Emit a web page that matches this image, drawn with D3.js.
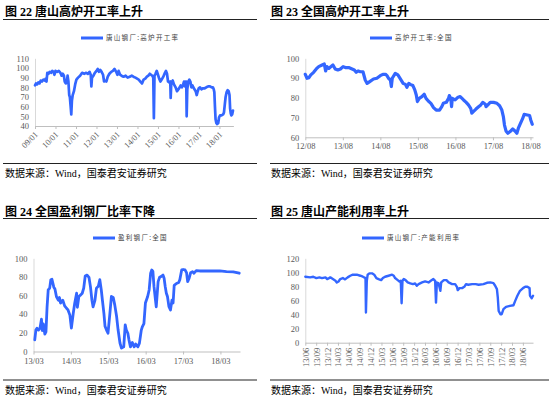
<!DOCTYPE html>
<html><head><meta charset="utf-8">
<script src="https://cdn.jsdelivr.net/npm/d3@7"></script>
<style>body{margin:0;background:#fff} svg{display:block}</style>
</head><body>
<svg id="c" width="554" height="399"></svg>
<script>
// ---------- text ----------
const titles = ["图 22 唐山高炉开工率上升", "图 23 全国高炉开工率上升", "图 24 全国盈利钢厂比率下降", "图 25 唐山产能利用率上升"];
const legendLabels = ["唐山钢厂:高炉开工率", "高炉开工率:全国", "盈利钢厂:全国", "唐山钢厂:产能利用率"];
const sourceText = "数据来源：Wind，国泰君安证券研究";

// ---------- panel 1: 唐山高炉开工率 ----------
const p1XLabels = ["09/01","10/01","11/01","12/01","13/01","14/01","15/01","16/01","17/01","18/01"];
const p1YTicks = [40,50,60,70,80,90,100,110];
const p1Dates = [2009.00,2009.05,2009.10,2009.16,2009.22,2009.28,2009.34,2009.41,2009.47,2009.52,2009.56,2009.60,2009.66,2009.72,2009.78,2009.84,2009.90,2009.95,
2010.00,2010.08,2010.16,2010.24,2010.30,2010.36,2010.41,2010.45,2010.50,2010.55,2010.59,2010.63,2010.67,2010.70,2010.74,2010.77,2010.80,2010.84,2010.90,2010.96,
2011.02,2011.10,2011.20,2011.30,2011.40,2011.50,2011.58,2011.66,2011.72,2011.75,2011.78,2011.85,2011.92,
2012.00,2012.06,2012.12,2012.18,2012.25,2012.32,2012.37,2012.42,2012.48,2012.55,2012.63,2012.72,2012.80,2012.88,2012.96,
2013.02,2013.08,2013.15,2013.22,2013.32,2013.42,2013.52,2013.62,2013.72,2013.80,2013.90,2013.98,
2014.06,2014.14,2014.22,2014.30,2014.38,2014.46,2014.53,2014.60,2014.66,2014.72,2014.77,2014.80,2014.83,2014.88,2014.94,
2015.00,2015.06,2015.12,2015.18,2015.26,2015.34,2015.39,2015.44,2015.49,2015.55,2015.60,2015.62,2015.65,2015.72,2015.78,2015.86,2015.93,
2016.00,2016.06,2016.11,2016.17,2016.23,2016.27,2016.31,2016.35,2016.38,2016.40,2016.43,2016.48,2016.53,2016.58,2016.63,2016.68,2016.72,2016.78,2016.84,2016.89,2016.94,2016.99,
2017.05,2017.12,2017.20,2017.28,2017.36,2017.45,2017.54,2017.62,2017.68,2017.72,2017.75,2017.78,2017.81,2017.85,2017.89,2017.94,2017.98,
2018.03,2018.10,2018.18,2018.22,2018.26,2018.30,2018.35,2018.40,2018.45,2018.49,2018.52,2018.55,2018.58,2018.62,2018.66];
const p1Values = [82,84,83,85,84,87,86,88,87,89,86,95,94,96,95,97,96,93,
97,96,97,95,92,94,92,86,84,85,92,86,72,70,60,52,66,72,76,83,
88,90,92,95,94,95,94,96,93,81,90,92,95,
97,99,96,98,96,93,86,87,86,91,94,96,97,99,96,
93,97,93,92,91,92,90,91,92,91,90,89,
88,86,84,88,89,91,92,94,93,92,90,48,92,94,97,
93,89,86,88,91,95,97,94,86,85,86,69,85,87,83,80,76,
78,80,82,80,83,86,81,86,86,50,78,86,88,86,80,82,80,78,76,72,76,79,
80,78,79,79,80,81,81,80,80,78,75,60,47,43,42,43,49,
51,51,52,54,62,70,75,77,76,72,58,53,51,52,56];

// ---------- panel 2: 高炉开工率:全国 ----------
const p2XLabels = ["12/08","13/08","14/08","15/08","16/08","17/08","18/08"];
const p2YTicks = [60,70,80,90,100];
const p2Dates = [2012.583,2012.63,2012.68,2012.73,2012.805,2012.876,2012.94,2013.03,2013.09,2013.125,2013.16,2013.21,2013.27,2013.32,2013.38,2013.45,2013.52,2013.59,2013.65,2013.74,2013.83,2013.89,2013.94,2013.99,2014.05,2014.12,2014.18,2014.23,2014.30,2014.40,2014.49,2014.58,2014.65,2014.72,2014.76,2014.80,2014.85,2014.876,2014.90,2014.98,2015.05,2015.12,2015.19,2015.25,2015.29,2015.34,2015.375,2015.45,2015.50,2015.54,2015.57,2015.62,2015.69,2015.75,2015.80,2015.86,2015.93,2016.00,2016.07,2016.16,2016.22,2016.26,2016.34,2016.40,2016.42,2016.46,2016.48,2016.50,2016.575,2016.64,2016.71,2016.80,2016.87,2016.93,2016.99,2017.02,2017.06,2017.13,2017.20,2017.26,2017.31,2017.38,2017.40,2017.46,2017.51,2017.60,2017.69,2017.76,2017.82,2017.86,2017.89,2017.93,2017.98,2018.04,2018.11,2018.17,2018.22,2018.26,2018.31,2018.37,2018.415,2018.50,2018.56,2018.59,2018.63];
const p2Values = [91.9,89.9,90.2,91.6,92.9,94.6,95.8,96.6,97.1,93.6,95.8,94.9,95.8,96.6,94.6,94.1,94.6,95.8,95.3,95.3,94.6,94.1,92.9,93.6,93.2,93.2,89.0,87.3,88.2,89.5,89.9,91.2,91.9,91.9,91.2,89.9,89.0,85.7,89.9,92.4,91.6,89.5,87.3,86.8,85.3,87.3,86.8,86.2,84.0,81.4,78.1,79.7,80.6,81.8,79.7,78.4,77.2,75.0,73.8,73.8,75.5,77.2,77.7,79.7,81.1,79.7,75.5,79.7,78.9,80.1,80.6,78.9,77.7,76.4,74.7,72.2,73.0,74.3,75.5,76.4,77.7,76.7,75.5,76.7,77.7,77.7,77.2,76.0,73.8,70.5,66.2,63.2,62.0,62.9,64.2,63.2,62.0,64.6,66.8,69.3,71.6,71.3,71.0,68.8,66.6];

// ---------- panel 3: 盈利钢厂:全国 ----------
const p3XLabels = ["13/03","14/03","15/03","16/03","17/03","18/03"];
const p3YTicks = [0,20,40,60,80,100];
const p3Dates = [2013.20,2013.23,2013.26,2013.30,2013.34,2013.38,2013.40,2013.43,2013.47,2013.50,2013.53,2013.56,2013.60,2013.63,2013.66,2013.71,2013.74,2013.78,2013.83,2013.86,2013.89,2013.95,2014.00,2014.05,2014.09,2014.14,2014.18,2014.23,2014.27,2014.32,2014.34,2014.38,2014.43,2014.47,2014.51,2014.55,2014.60,2014.65,2014.69,2014.73,2014.76,2014.81,2014.85,2014.90,2014.94,2014.98,2015.01,2015.05,2015.08,2015.12,2015.16,2015.21,2015.25,2015.30,2015.34,2015.39,2015.43,2015.48,2015.52,2015.58,2015.62,2015.65,2015.69,2015.72,2015.76,2015.81,2015.86,2015.90,2015.96,2016.00,2016.05,2016.08,2016.12,2016.16,2016.22,2016.26,2016.30,2016.33,2016.36,2016.39,2016.43,2016.45,2016.50,2016.54,2016.58,2016.63,2016.66,2016.69,2016.72,2016.75,2016.79,2016.83,2016.87,2016.90,2016.93,2016.99,2017.05,2017.08,2017.13,2017.17,2017.22,2017.26,2017.29,2017.33,2017.37,2017.42,2017.46,2017.52,2017.61,2017.79,2017.97,2018.15,2018.33,2018.51,2018.67];
const p3Values = [12.5,23,25,23,25,34.6,22.5,29.6,18.6,21,48,66,68,77,77.5,69,67,59,55,58,52,55,49,46.4,44.6,39,25,41,52,62.5,47.5,59,60.7,62.5,68,81,82,79.6,69.6,55,48,55,68,70,77,66,55,41,27,23,19.6,41,59,58,50,37.5,23,9,3.6,5,28.6,23,19.6,12.5,5,9.6,5,8,5,9,23,26.8,30,52,59,66,84,87.5,86,69.6,55,48,75,79.6,80.4,82,78.6,69.6,62.5,59,48,44.6,55,52,71,73,74,77,87.5,88,87.5,84.6,75,78.6,84.6,85.7,84,86.8,86.4,86.4,86.4,86.4,85.7,85.4,84];

// ---------- panel 4: 唐山钢厂:产能利用率 ----------
const p4XLabels = ["13/06","13/09","13/12","14/03","14/06","14/09","14/12","15/03","15/06","15/09","15/12","16/03","16/06","16/09","16/12","17/03","17/06","17/09","17/12","18/03","18/06"];
const p4YTicks = [0,20,40,60,80,100,120];
const p4Dates = [2013.417,2013.53,2013.60,2013.67,2013.74,2013.80,2013.88,2013.92,2013.95,2013.99,2014.05,2014.11,2014.14,2014.18,2014.22,2014.28,2014.33,2014.39,2014.45,2014.51,2014.60,2014.68,2014.74,2014.80,2014.81,2014.83,2014.85,2014.89,2014.95,2015.00,2015.05,2015.10,2015.16,2015.20,2015.25,2015.33,2015.41,2015.45,2015.48,2015.54,2015.58,2015.61,2015.63,2015.65,2015.68,2015.72,2015.77,2015.83,2015.89,2015.94,2015.98,2016.02,2016.10,2016.17,2016.25,2016.30,2016.36,2016.40,2016.42,2016.44,2016.48,2016.52,2016.54,2016.60,2016.66,2016.71,2016.79,2016.86,2016.90,2016.92,2016.96,2017.02,2017.07,2017.11,2017.16,2017.25,2017.33,2017.40,2017.51,2017.59,2017.67,2017.74,2017.78,2017.82,2017.84,2017.86,2017.90,2017.93,2017.97,2018.03,2018.12,2018.20,2018.24,2018.29,2018.35,2018.42,2018.47,2018.52,2018.57,2018.58,2018.62,2018.65];
const p4Values = [93.8,92.9,93.8,91.9,92.9,91.9,92.9,90.5,91.4,92.9,90.5,88.1,85.7,87.1,90.5,91.9,90,92.9,95.2,96.7,96.7,95.2,93.8,91.9,43,88,96.7,98.6,98.6,96.7,91.9,90.5,89,91.9,93.8,95.2,96.7,95.2,91.9,89,87.1,88,56,88,90.5,89,85.7,84.3,83.3,84.3,81,83.3,85.7,87.1,85.7,88,90.5,88,57,85.7,84.3,73.8,85.7,89,89,85.7,83.3,83.3,79.5,74.8,77.6,77.6,79.5,83.3,82.4,83.3,83.3,82.4,83.3,85.2,85.7,84.8,81,76.2,64.3,45.2,40.5,40.5,47.6,51,52.4,53.3,59.5,66.7,73.8,77.6,79.5,79.5,77.6,66.7,63.3,66.7];

// ---------- drawing ----------
const svg = d3.select("#c");
const LINE = "#3366ff";
const MIXED = "'Liberation Serif','Noto Sans CJK SC',serif";

function panel(c) {
  const g = svg.append("g");
  g.append("text").attr("x", c.tx).attr("y", c.ty)
    .attr("font-family", MIXED).attr("font-weight", "bold").attr("font-size", 12).attr("fill", "#000").text(c.title);
  g.append("line").attr("x1", c.lx0).attr("x2", c.lx1).attr("y1", c.uy).attr("y2", c.uy).attr("stroke", "#222").attr("stroke-width", 1.2);
  g.append("line").attr("x1", c.lx0).attr("x2", c.lx1).attr("y1", c.fy).attr("y2", c.fy).attr("stroke", "#222").attr("stroke-width", 1.2);
  g.append("text").attr("x", c.tx).attr("y", c.sy)
    .attr("font-family", MIXED).attr("font-size", 10).attr("fill", "#000").text(sourceText);
  // legend
  g.append("line").attr("x1", c.legX).attr("x2", c.legX + 22).attr("y1", c.legY).attr("y2", c.legY)
    .attr("stroke", LINE).attr("stroke-width", 3);
  g.append("text").attr("x", c.legX + 25).attr("y", c.legY).attr("dy", "0.35em")
    .attr("font-family", "'Noto Sans CJK SC',sans-serif").attr("font-size", 6.5).attr("letter-spacing", 1.3)
    .attr("fill", "#404040").text(c.legend);

  const tickPos = c.xLabels.map(s => 2000 + (+s.slice(0, 2)) + (+s.slice(3) - 1) / 12);
  const x = d3.scaleLinear().domain([tickPos[0], c.xEnd]).range([c.x0, c.x1]);
  const y = d3.scaleLinear().domain([c.yTicks[0], c.yTicks[c.yTicks.length - 1]]).range([c.y0, c.y1]);

  const ya = g.append("g").attr("transform", `translate(${c.x0},0)`)
    .call(d3.axisLeft(y).tickValues(c.yTicks).tickSize(0).tickSizeOuter(0).tickPadding(6));
  ya.select(".domain").attr("stroke", "#d9d9d9");
  ya.selectAll("text").attr("font-family", "'Liberation Serif',serif").attr("font-size", 8.5).attr("fill", "#595959");

  const xa = g.append("g").attr("transform", `translate(0,${c.y0})`)
    .call(d3.axisBottom(x).tickValues(tickPos).tickFormat((d, i) => c.xLabels[i]).tickSize(3).tickSizeOuter(0).tickPadding(3));
  xa.select(".domain").attr("stroke", "#bfbfbf");
  xa.selectAll(".tick line").attr("stroke", "#bfbfbf");
  const xt = xa.selectAll("text").attr("font-family", "'Liberation Serif',serif").attr("font-size", 8.5).attr("fill", "#595959");
  if (c.rot === "diag") {
    xt.attr("text-anchor", "end").attr("x", 0).attr("y", 0).attr("dy", "0.35em")
      .attr("transform", "translate(1,7) rotate(-45)");
  } else if (c.rot === "vert") {
    xt.attr("text-anchor", "end").attr("x", 0).attr("y", 0).attr("dy", "0.35em")
      .attr("transform", "translate(0,5) rotate(-90)");
  }

  g.append("path")
    .datum(c.dates.map((d, i) => [d, c.values[i]]))
    .attr("d", d3.line().x(d => x(d[0])).y(d => y(d[1])))
    .attr("fill", "none").attr("stroke", LINE).attr("stroke-width", c.sw)
    .attr("stroke-linejoin", "round").attr("stroke-linecap", "round");
}

panel({ title: titles[0], legend: legendLabels[0], tx: 5, ty: 15.5, lx0: 3, lx1: 257, uy: 19.5, fy: 163.5, sy: 177,
  legX: 81, legY: 38, x0: 35, x1: 233.4, xEnd: 2018.68, y0: 126, y1: 58.3,
  xLabels: p1XLabels, yTicks: p1YTicks, dates: p1Dates, values: p1Values, rot: "diag", sw: 2.7 });
panel({ title: titles[1], legend: legendLabels[1], tx: 271, ty: 15.5, lx0: 270, lx1: 549, uy: 19.5, fy: 163.5, sy: 177,
  legX: 370, legY: 38, x0: 305.3, x1: 533, xEnd: 2018.65, y0: 137.3, y1: 58.3,
  xLabels: p2XLabels, yTicks: p2YTicks, dates: p2Dates, values: p2Values, rot: "none", sw: 3.2 });
panel({ title: titles[2], legend: legendLabels[2], tx: 5, ty: 215.5, lx0: 3, lx1: 257, uy: 218.5, fy: 380, sy: 393.5,
  legX: 93, legY: 238, x0: 33.5, x1: 240, xEnd: 2018.69, y0: 351.5, y1: 258.3,
  xLabels: p3XLabels, yTicks: p3YTicks, dates: p3Dates, values: p3Values, rot: "none", sw: 2.8 });
panel({ title: titles[3], legend: legendLabels[3], tx: 271, ty: 215.5, lx0: 270, lx1: 549, uy: 218.5, fy: 380, sy: 393.5,
  legX: 362, legY: 238, x0: 305.3, x1: 533, xEnd: 2018.649, y0: 342.7, y1: 258.3,
  xLabels: p4XLabels, yTicks: p4YTicks, dates: p4Dates, values: p4Values, rot: "vert", sw: 2.4 });
</script>
</body></html>
